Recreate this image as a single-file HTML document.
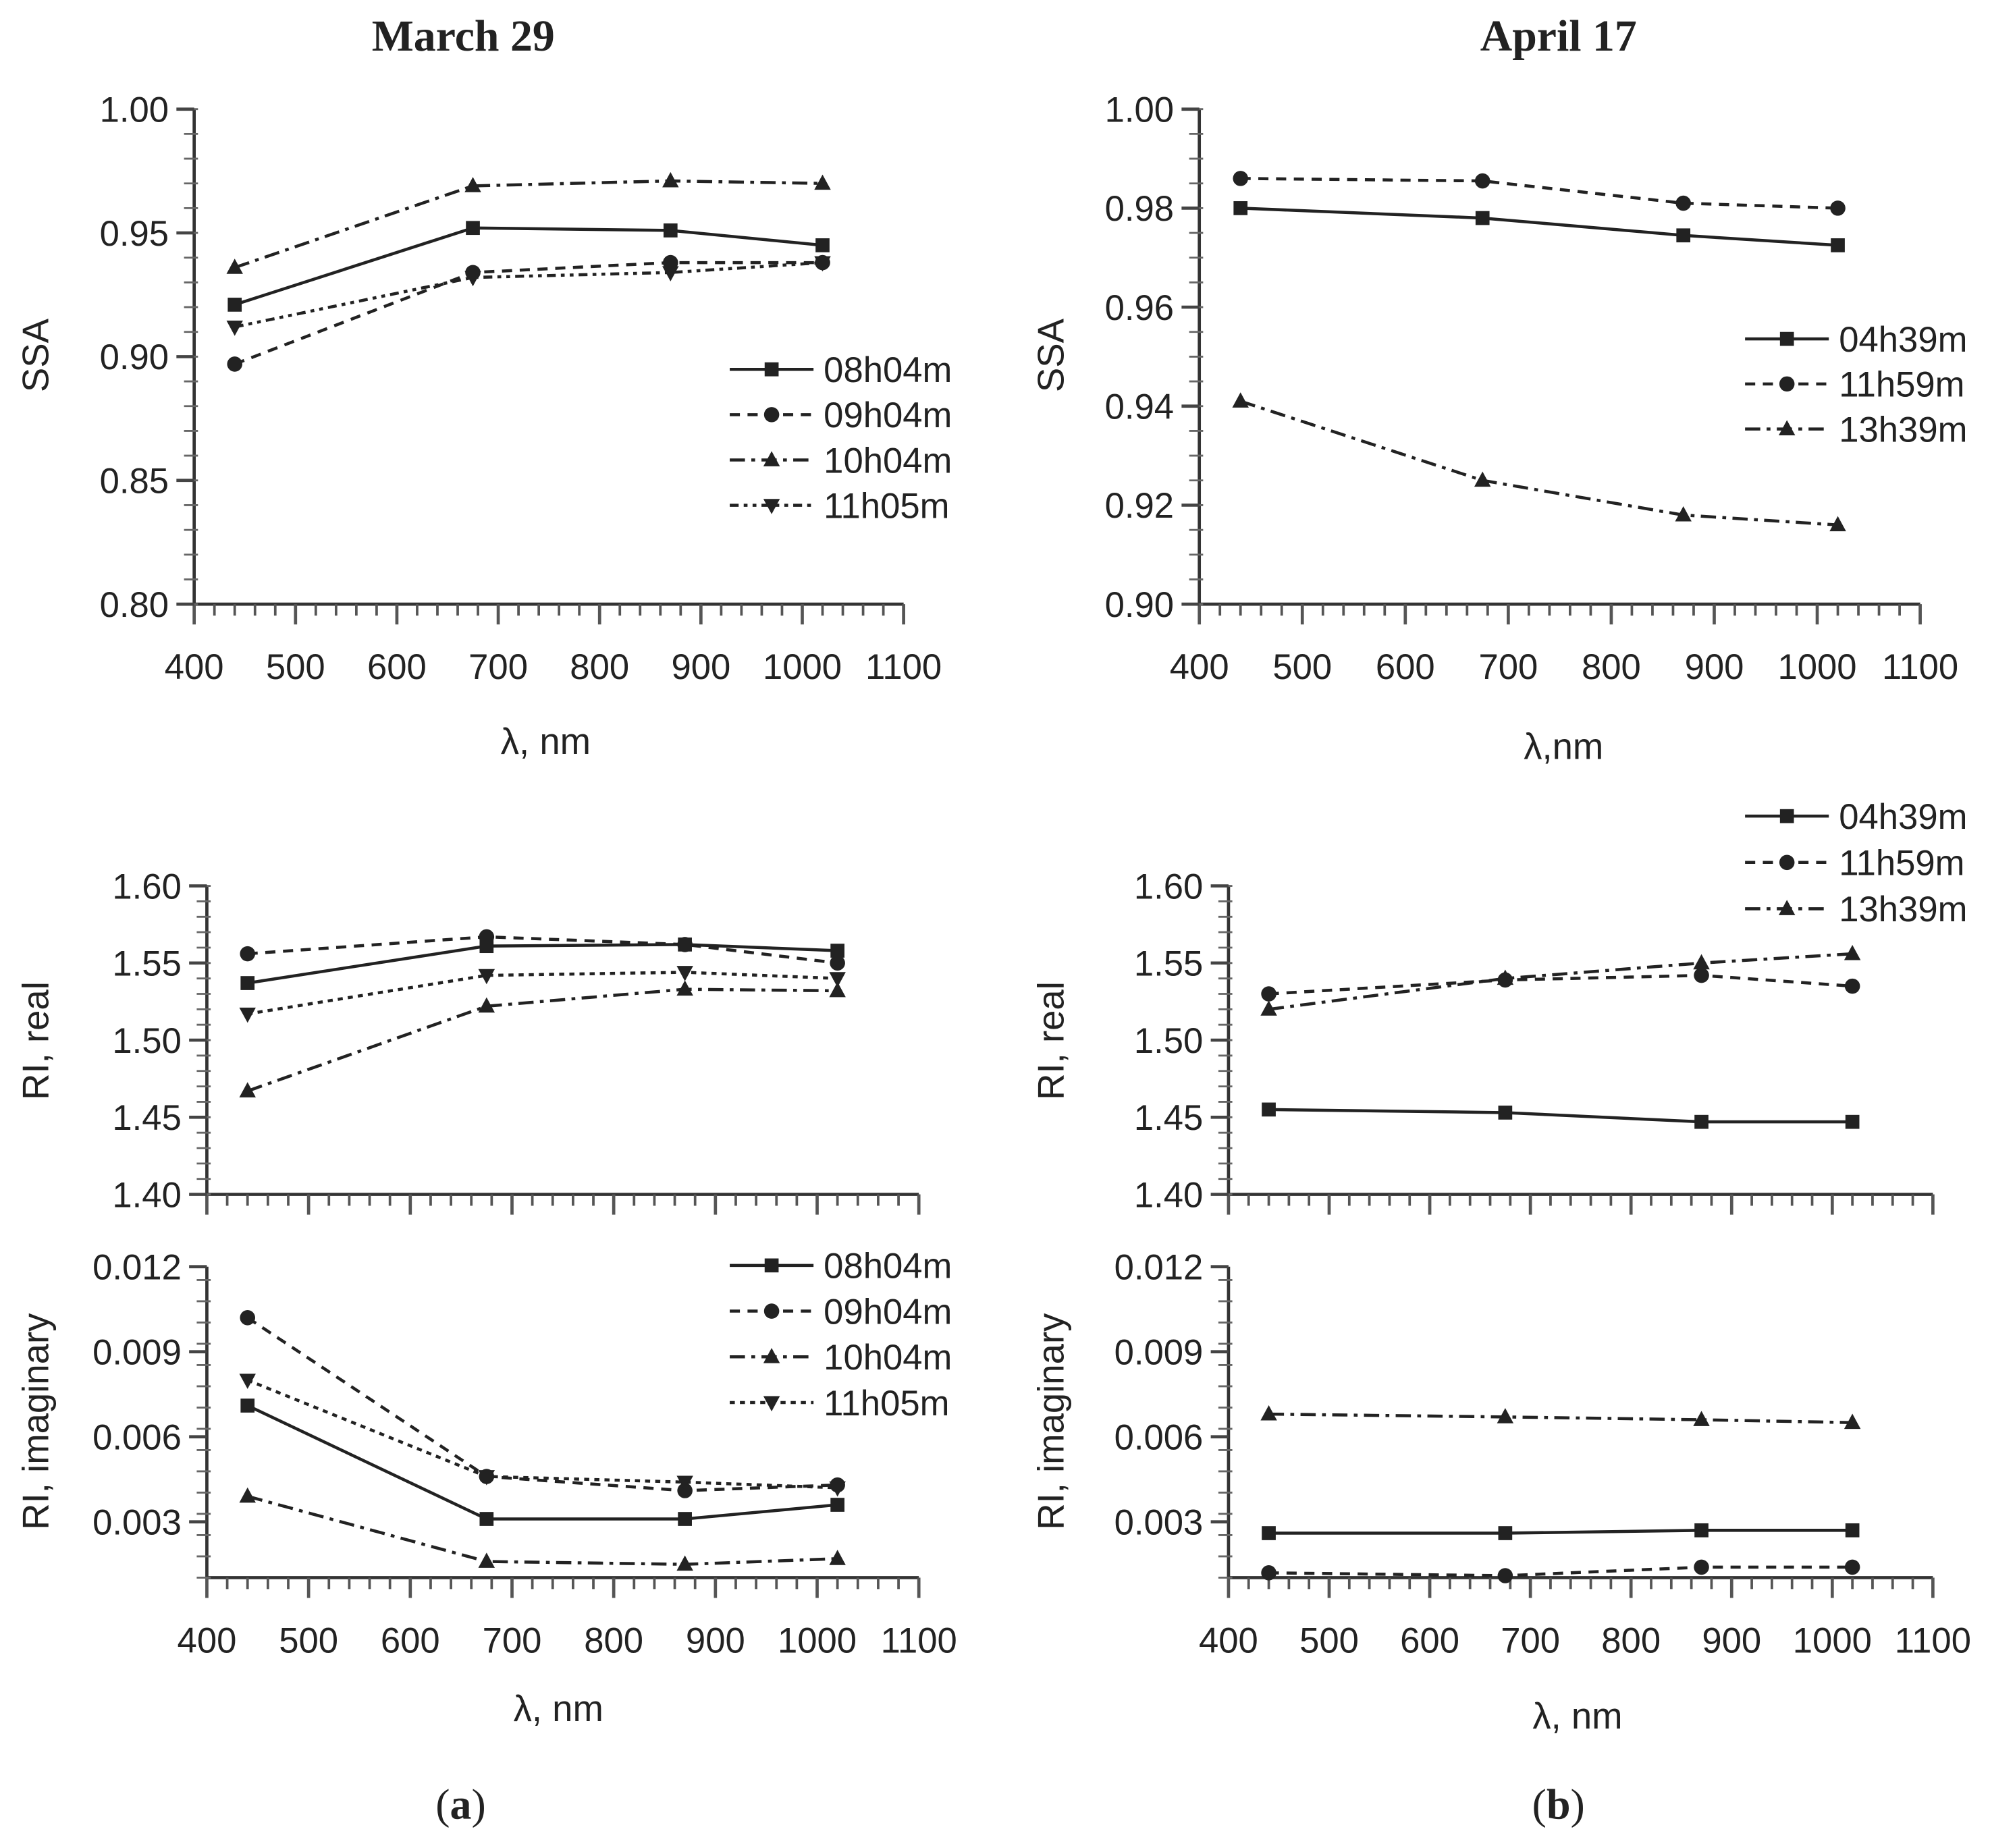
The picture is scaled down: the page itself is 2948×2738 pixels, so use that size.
<!DOCTYPE html>
<html><head><meta charset="utf-8"><style>
html,body{margin:0;padding:0;background:#fff}
svg{display:block}
text{font-family:"Liberation Sans",sans-serif;fill:#222}
</style></head><body>
<svg id="fig" width="2948" height="2738" viewBox="0 0 1568 1456" preserveAspectRatio="none" xmlns="http://www.w3.org/2000/svg">
<rect width="1568" height="1456" fill="#fff"/>
<text x="365" y="40" text-anchor="middle" style="font-family:'Liberation Serif',serif;font-weight:bold;font-size:35px">March 29</text>
<text x="1228" y="40" text-anchor="middle" style="font-family:'Liberation Serif',serif;font-weight:bold;font-size:35px">April 17</text>
<text x="363" y="1433" text-anchor="middle" style="font-family:'Liberation Serif',serif;font-size:34px">(<tspan font-weight="bold">a</tspan>)</text>
<text x="1228" y="1433" text-anchor="middle" style="font-family:'Liberation Serif',serif;font-size:34px">(<tspan font-weight="bold">b</tspan>)</text>
</svg>
<script>
const wavelengths=[440,675,870,1020];
const xTicks=[400,500,600,700,800,900,1000,1100];
const namesA=["08h04m","09h04m","10h04m","11h05m"];
const namesB=["04h39m","11h59m","13h39m"];
const ssaA_0804=[0.921,0.952,0.951,0.945];
const ssaA_0904=[0.897,0.934,0.938,0.938];
const ssaA_1004=[0.936,0.969,0.971,0.970];
const ssaA_1105=[0.912,0.932,0.934,0.938];
const ssaB_0439=[0.980,0.978,0.9745,0.9725];
const ssaB_1159=[0.986,0.9855,0.981,0.980];
const ssaB_1339=[0.941,0.925,0.918,0.916];
const realA_0804=[1.537,1.561,1.562,1.558];
const realA_0904=[1.556,1.567,1.562,1.550];
const realA_1004=[1.467,1.522,1.533,1.532];
const realA_1105=[1.517,1.542,1.544,1.540];
const imagA_0804=[0.0071,0.0031,0.0031,0.0036];
const imagA_0904=[0.0102,0.0046,0.0041,0.0043];
const imagA_1004=[0.0039,0.0016,0.0015,0.0017];
const imagA_1105=[0.0080,0.0046,0.0044,0.0042];
const realB_0439=[1.455,1.453,1.447,1.447];
const realB_1159=[1.530,1.539,1.542,1.535];
const realB_1339=[1.520,1.540,1.550,1.556];
const imagB_0439=[0.0026,0.0026,0.0027,0.0027];
const imagB_1159=[0.0012,0.0011,0.0014,0.0014];
const imagB_1339=[0.0068,0.0067,0.0066,0.0065];
const ssaTicksA=["0.80","0.85","0.90","0.95","1.00"];
const ssaTicksB=["0.90","0.92","0.94","0.96","0.98","1.00"];
const realTicks=["1.40","1.45","1.50","1.55","1.60"];
const imagTicks=["0.003","0.006","0.009","0.012"];

const NS="http://www.w3.org/2000/svg";
const svg=document.getElementById('fig');
const markers=["square","circle","tri","itri"];
const dashes=["","8,6","12,5,3,5","7,4,3,4,3,4"];
function el(t,a){const e=document.createElementNS(NS,t);for(const k in a)e.setAttribute(k,a[k]);svg.appendChild(e);return e;}
function marker(x,y,type,nm){let e;
 if(type==="square"){e=el('rect',{x:x-5.5,y:y-5.5,width:11,height:11,fill:'#222'});}
 else if(type==="circle"){e=el('circle',{cx:x,cy:y,r:6,fill:'#222'});}
 else if(type==="tri"){e=el('polygon',{points:`${x},${y-7} ${x-6.5},${y+5} ${x+6.5},${y+5}`,fill:'#222'});}
 else{e=el('polygon',{points:`${x},${y+7} ${x-6.5},${y-5} ${x+6.5},${y-5}`,fill:'#222'});}
 
 }
function panel(p){
 const X=v=>p.x0+(v-400)/(700)*(p.x1-p.x0);
 const Y=v=>p.yb+(v-p.ymin)/(p.ymax-p.ymin)*(p.yt-p.yb);
 let e=el('line',{x1:p.x0,y1:p.yt,x2:p.x0,y2:p.yb,stroke:'#333','stroke-width':2.5});
 
 
 e=el('line',{x1:p.x0,y1:p.yb,x2:p.x1,y2:p.yb,stroke:'#333','stroke-width':2.5});
 
 
 for(let v=400;v<=1100;v+=20){const big=(v%100===0);
  e=el('line',{x1:X(v),y1:p.yb,x2:X(v),y2:p.yb+(big?16:9),stroke:'#555','stroke-width':big?2.5:2});
  
  }
 if(p.xlabels){xTicks.forEach(v=>{e=el('text',{x:X(v),y:p.yb+59,'text-anchor':'middle','font-size':28});e.textContent=v;
  
  });}
 const nMinor=p.minor;
 for(let v=p.ymin;v<=p.ymax+1e-9;v+=nMinor){
  e=el('line',{x1:p.x0-8,y1:Y(v),x2:p.x0+3,y2:Y(v),stroke:'#666','stroke-width':1.5});
  
  }
 p.ticks.forEach(t=>{const v=parseFloat(t);
  e=el('line',{x1:p.x0-14,y1:Y(v),x2:p.x0,y2:Y(v),stroke:'#444','stroke-width':2.5});
  
  
  e=el('text',{x:p.x0-20,y:Y(v)+10,'text-anchor':'end','font-size':28});e.textContent=t;
  
  });
 e=el('text',{x:p.ylx,y:p.yly,'text-anchor':'middle','font-size':29,transform:`rotate(-90 ${p.ylx} ${p.yly})`});e.textContent=p.ylabel;
 
 
 if(p.xtitle){e=el('text',{x:p.xtx,y:p.xty,'text-anchor':'middle','font-size':29});e.textContent=p.xtitle;
  
  }
 p.series.forEach((s,i)=>{const pts=wavelengths.map((w,j)=>X(w)+','+Y(s[j])).join(' ');
  const a={points:pts,fill:'none',stroke:'#222','stroke-width':2.4};if(p.dash[i])a['stroke-dasharray']=p.dash[i];
  e=el('polyline',a);
  
  
  wavelengths.forEach((w,j)=>marker(X(w),Y(s[j]),markers[i],p.id+'-'+p.names[i]));});
 if(p.leg){p.names.forEach((n,i)=>{const y=p.leg.y+i*p.leg.dy;
  const a={x1:p.leg.x,y1:y,x2:p.leg.x+66,y2:y,stroke:'#222','stroke-width':2.4};if(p.dash[i])a['stroke-dasharray']=p.dash[i];
  e=el('line',a);
  
  
  marker(p.leg.x+33,y,markers[i],'legend-'+n);
  e=el('text',{x:p.leg.x+74,y:y+10,'font-size':28});e.textContent=n;
  
  });}
}
panel({id:'ssa-march',x0:153,x1:712,yt:86,yb:476,ymin:0.80,ymax:1.00,minor:0.01,ticks:ssaTicksA,xlabels:true,ylabel:'SSA',ylx:38,yly:280,xtitle:'λ, nm',xtx:430,xty:594,
 series:[ssaA_0804,ssaA_0904,ssaA_1004,ssaA_1105],names:namesA,dash:dashes,leg:{x:575,y:291,dy:35.7}});
panel({id:'ssa-april',x0:945,x1:1513,yt:86,yb:476,ymin:0.90,ymax:1.00,minor:0.005,ticks:ssaTicksB,xlabels:true,ylabel:'SSA',ylx:838,yly:280,xtitle:'λ,nm',xtx:1232,xty:598,
 series:[ssaB_0439,ssaB_1159,ssaB_1339],names:namesB,dash:dashes,leg:{x:1375,y:267,dy:35.5}});
panel({id:'real-march',x0:163,x1:724,yt:698,yb:941,ymin:1.40,ymax:1.60,minor:0.01,ticks:realTicks,xlabels:false,ylabel:'RI, real',ylx:38,yly:820,
 series:[realA_0804,realA_0904,realA_1004,realA_1105],names:namesA,dash:["","8,6","12,5,3,5","4,4"]});
panel({id:'imag-march',x0:163,x1:724,yt:998,yb:1243,ymin:0.00103,ymax:0.012,minor:0.00075,ticks:imagTicks,xlabels:true,ylabel:'RI, imaginary',ylx:38,yly:1120,xtitle:'λ, nm',xtx:440,xty:1356,
 series:[imagA_0804,imagA_0904,imagA_1004,imagA_1105],names:namesA,dash:["","8,6","12,5,3,5","4,4"],leg:{x:575,y:997,dy:36}});
panel({id:'real-april',x0:968,x1:1523,yt:698,yb:941,ymin:1.40,ymax:1.60,minor:0.01,ticks:realTicks,xlabels:false,ylabel:'RI, real',ylx:838,yly:820,
 series:[realB_0439,realB_1159,realB_1339],names:namesB,dash:dashes,leg:{x:1375,y:643,dy:36.5}});
panel({id:'imag-april',x0:968,x1:1523,yt:998,yb:1243,ymin:0.00103,ymax:0.012,minor:0.00075,ticks:imagTicks,xlabels:true,ylabel:'RI, imaginary',ylx:838,yly:1120,xtitle:'λ, nm',xtx:1243,xty:1362,
 series:[imagB_0439,imagB_1159,imagB_1339],names:namesB,dash:dashes});
</script>
</body></html>
